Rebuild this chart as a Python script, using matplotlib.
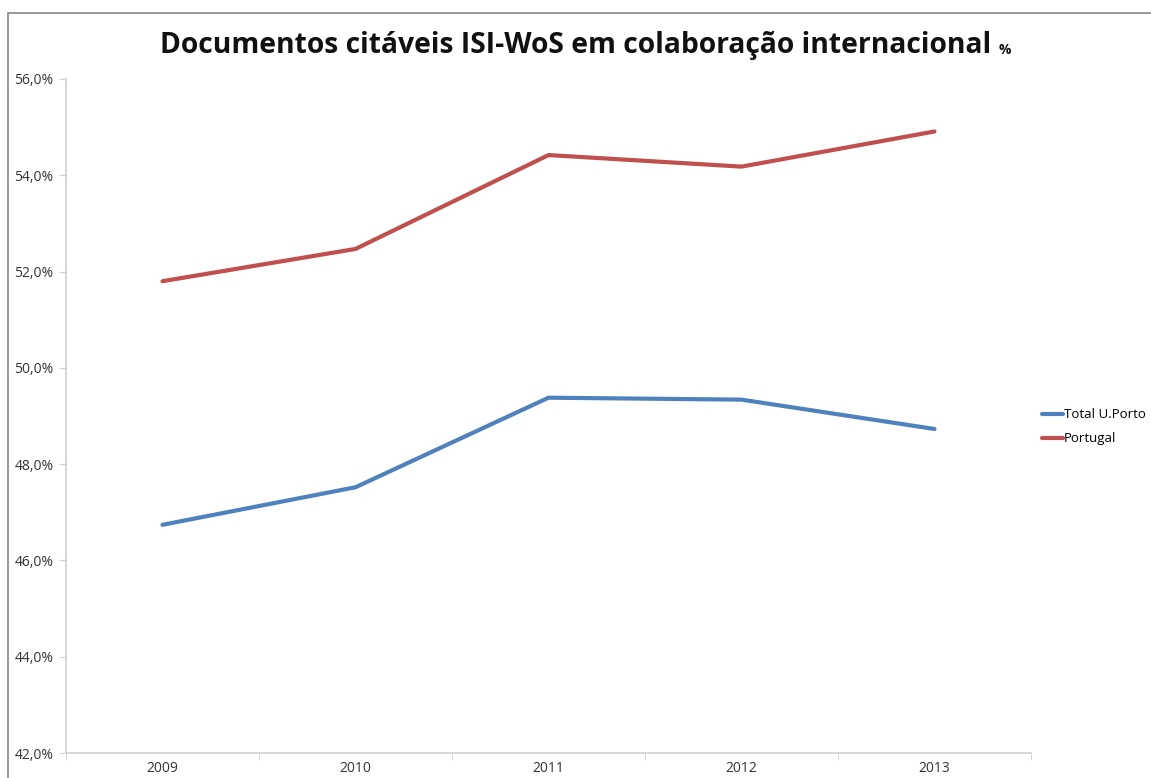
import matplotlib
matplotlib.use("Agg")
import matplotlib.pyplot as plt
from matplotlib.patches import Rectangle

years = ["2009", "2010", "2011", "2012", "2013"]
uporto = [46.74, 47.52, 49.38, 49.34, 48.73]
portugal = [51.80, 52.47, 54.42, 54.18, 54.91]
yticks = [42, 44, 46, 48, 50, 52, 54, 56]

plt.rcParams['font.family'] = ['Open Sans', 'DejaVu Sans']

fig = plt.figure(figsize=(11.51, 7.78), dpi=100)
ax = fig.add_axes([66/1151, 1-753/778, (1031-66)/1151, (753-79)/778])

x = list(range(len(years)))
ax.plot(x, uporto, color='#4f81bd', lw=3, label='Total U.Porto', solid_capstyle='round')
ax.plot(x, portugal, color='#c0504d', lw=3, label='Portugal', solid_capstyle='round')

ax.set_xlim(-0.5, len(years)-0.5)
ax.set_ylim(42, 56)
ax.set_yticks(yticks)
ax.set_yticklabels([f"{v:.1f}%".replace('.', ',') for v in yticks])
ax.set_xticks(x)
ax.set_xticklabels(years)
ax.set_xticks([i + 0.5 for i in range(-1, len(years))], minor=True)
ax.tick_params(axis='x', which='major', length=0, pad=6, labelsize=10, colors='#333333')
ax.tick_params(axis='x', which='minor', length=5, color='#d0d0d0', direction='out')
ax.tick_params(axis='y', length=5, color='#d0d0d0', labelsize=10, colors='#333333', pad=4)
for s in ['top', 'right']:
    ax.spines[s].set_visible(False)
for s in ['left', 'bottom']:
    ax.spines[s].set_color('#d0d0d0')
    ax.spines[s].set_linewidth(1.2)

leg = ax.legend(loc='center left', bbox_to_anchor=(1.0, 0.484), frameon=False,
                fontsize=9.5, handlelength=1.6, handletextpad=0.1, borderaxespad=0.4,
                labelspacing=0.85)

fig.text(0.5, 1-45/778, "Documentos citáveis ISI-WoS em colaboração internacional",
         ha='center', va='center', fontsize=20.3, fontweight='bold', color='#111111')
fig.text(1005/1151, 1-50/778, "%", ha='center', va='center', fontsize=10, fontweight='bold', color='#111111')

fig.patches.append(Rectangle((8/1151, -0.1), 1.2, 1-13/778+0.1, transform=fig.transFigure,
                             fill=False, edgecolor='#888888', lw=1.2))

fig.savefig("out.png", dpi=100, facecolor='white')
